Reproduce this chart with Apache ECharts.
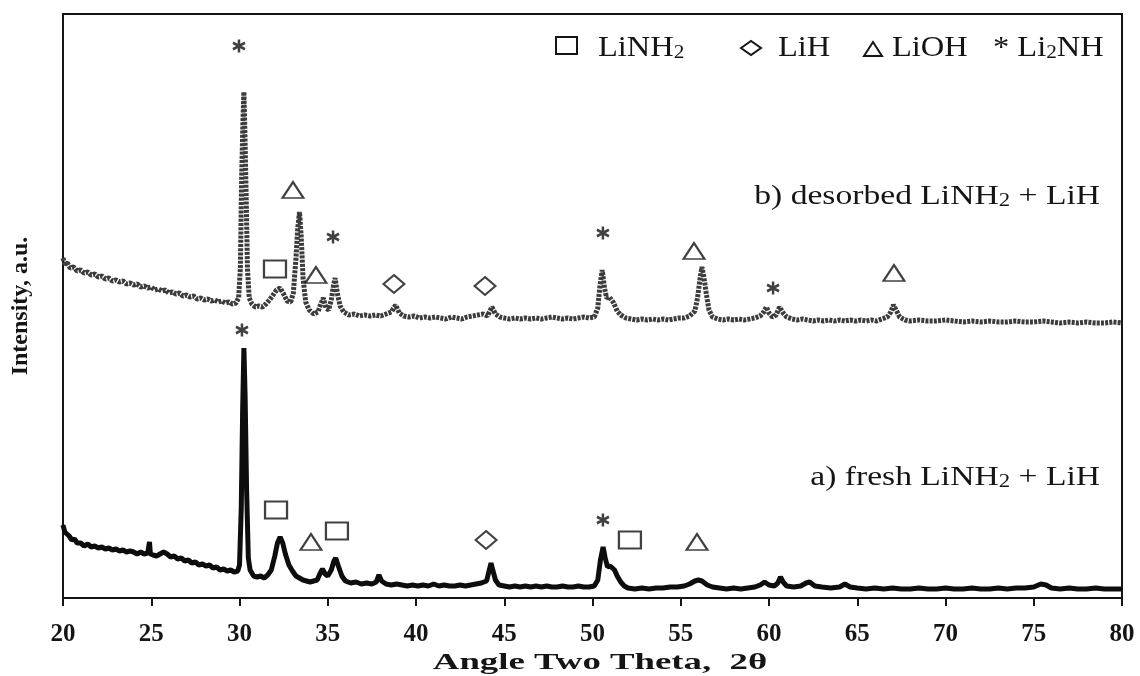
<!DOCTYPE html>
<html>
<head>
<meta charset="utf-8">
<script src="https://cdn.jsdelivr.net/npm/echarts@6/dist/echarts.min.js"></script>
<style>html,body{margin:0;padding:0;background:#fff;}#chart{width:1140px;height:676px;}</style>
</head>
<body>
<div id="chart"></div>
<script>
// ---- data (angle 2θ, intensity a.u.) ----
const xTicks = [20, 25, 30, 35, 40, 45, 50, 55, 60, 65, 70, 75, 80];

const freshPattern = [
[20.0,73],[20.1,66],[20.2,64],[20.35,62],[20.5,58],[20.65,59],[20.8,55],[21.0,55],[21.2,52],[21.4,54],[21.6,51],[21.8,52],
[22.0,50],[22.2,51],[22.4,49],[22.6,50],[22.8,48],[23.0,49],[23.2,47],[23.4,48],[23.6,46],[23.8,47],[24.0,46],[24.2,44],
[24.4,46],[24.6,44],[24.8,45],[24.9,56],[24.95,44],[25.1,43],[25.3,42],[25.5,44],[25.7,46],[25.9,44],[26.1,41],[26.3,42],
[26.5,39],[26.7,40],[26.9,37],[27.1,38],[27.3,35],[27.5,36],[27.7,33],[27.9,34],[28.1,32],[28.3,33],[28.5,30],[28.7,31],
[28.9,28],[29.1,29],[29.3,27],[29.5,28],[29.7,26],[29.9,27],[30.0,33],[30.1,90],[30.18,190],[30.25,250],[30.32,200],
[30.4,110],[30.5,40],[30.6,28],[30.8,22],[31.0,21],[31.2,22],[31.4,20],[31.6,23],[31.8,28],[32.0,42],[32.15,55],[32.3,61],
[32.45,55],[32.6,44],[32.8,33],[33.0,27],[33.2,22],[33.4,20],[33.6,18],[33.8,17],[34.0,16],[34.2,17],[34.4,18],[34.55,24],
[34.7,29],[34.85,24],[35.0,22],[35.2,28],[35.35,37],[35.45,40],[35.6,32],[35.8,22],[36.0,17],[36.3,15],[36.6,16],[36.9,14],
[37.2,15],[37.5,14],[37.75,16],[37.9,23],[38.05,17],[38.3,14],[38.6,13],[38.9,14],[39.2,13],[39.5,12],[39.8,13],[40.1,12],
[40.4,13],[40.7,12],[41.0,14],[41.3,12],[41.6,13],[41.9,12],[42.2,12],[42.5,13],[42.8,12],[43.1,13],[43.4,14],[43.7,15],
[44.0,17],[44.15,28],[44.25,35],[44.35,28],[44.5,18],[44.7,13],[45.0,12],[45.3,11],[45.6,12],[45.9,11],[46.2,12],[46.5,11],
[46.8,12],[47.1,11],[47.4,12],[47.7,11],[48.0,11],[48.3,12],[48.6,11],[48.9,11],[49.2,12],[49.5,11],[49.8,11],[50.1,12],
[50.3,18],[50.45,38],[50.6,51],[50.72,40],[50.85,31],[51.0,32],[51.1,33],[51.25,28],[51.4,22],[51.6,16],[51.8,12],[52.0,10],
[52.4,9],[52.8,10],[53.2,9],[53.6,10],[54.0,10],[54.4,11],[54.8,11],[55.2,12],[55.5,14],[55.8,17],[56.0,18],[56.2,17],
[56.5,13],[56.8,11],[57.2,10],[57.6,9],[58.0,10],[58.4,9],[58.8,10],[59.2,11],[59.5,13],[59.75,16],[60.0,13],[60.3,12],
[60.5,15],[60.65,21],[60.8,16],[61.0,12],[61.4,11],[61.8,12],[62.1,15],[62.3,16],[62.6,12],[63.0,11],[63.5,10],[64.0,11],
[64.3,14],[64.6,11],[65.0,10],[65.5,9],[66,10],[66.5,9],[67,10],[67.5,9],[68,9],[68.5,10],[69,9],[69.5,9],[70,10],[70.5,9],
[71,9],[71.5,10],[72,9],[72.5,9],[73,10],[73.5,9],[74,10],[74.5,10],[75,11],[75.4,14],[75.7,13],[76,10],[76.5,9],[77,10],
[77.5,9],[78,9],[78.5,10],[79,9],[79.5,9],[80,9]
];

const desorbedPattern = [
[20.0,340],[20.1,334],[20.25,335],[20.4,330],[20.6,331],[20.8,327],[21.0,328],[21.2,325],[21.4,326],[21.6,323],[21.8,324],
[22.0,321],[22.2,322],[22.4,319],[22.6,320],[22.8,317],[23.0,318],[23.2,316],[23.4,317],[23.6,314],[23.8,315],[24.0,313],
[24.2,314],[24.4,311],[24.6,312],[24.8,310],[25.0,311],[25.2,308],[25.4,309],[25.6,307],[25.8,308],[26.0,305],[26.2,306],
[26.4,304],[26.6,305],[26.8,302],[27.0,303],[27.2,301],[27.4,302],[27.6,299],[27.8,300],[28.0,298],[28.2,299],[28.4,297],
[28.6,298],[28.8,296],[29.0,297],[29.2,295],[29.4,296],[29.6,294],[29.8,295],[29.95,300],[30.05,330],[30.12,420],[30.2,480],
[30.25,506],[30.3,470],[30.38,400],[30.45,330],[30.55,300],[30.7,294],[30.9,291],[31.1,292],[31.3,291],[31.5,294],[31.7,298],
[31.9,303],[32.1,308],[32.3,310],[32.5,304],[32.7,297],[32.9,296],[33.05,305],[33.2,340],[33.3,370],[33.4,386],[33.5,360],
[33.6,320],[33.75,296],[33.95,288],[34.2,284],[34.45,286],[34.6,294],[34.75,300],[34.9,290],[35.05,288],[35.2,298],
[35.32,312],[35.42,320],[35.55,304],[35.7,292],[35.9,286],[36.2,283],[36.5,284],[36.8,282],[37.1,283],[37.4,282],[37.7,283],
[38.0,282],[38.3,284],[38.6,286],[38.85,293],[39.05,285],[39.3,282],[39.6,281],[39.9,282],[40.2,280],[40.5,281],[40.8,280],
[41.1,281],[41.4,280],[41.7,279],[42.0,281],[42.3,280],[42.6,279],[42.9,281],[43.2,282],[43.5,283],[43.8,284],[44.05,282],
[44.3,291],[44.5,284],[44.75,281],[45.0,280],[45.3,279],[45.6,280],[45.9,279],[46.2,280],[46.5,279],[46.8,280],[47.1,279],
[47.4,280],[47.7,281],[48.0,280],[48.3,279],[48.6,280],[48.9,279],[49.2,280],[49.5,281],[49.8,280],[50.1,281],[50.3,290],
[50.42,312],[50.55,328],[50.68,310],[50.8,300],[50.95,301],[51.05,303],[51.2,295],[51.4,287],[51.6,283],[51.9,280],[52.2,279],
[52.5,278],[52.8,279],[53.1,278],[53.4,279],[53.7,278],[54.0,279],[54.3,278],[54.6,279],[54.9,280],[55.2,280],[55.5,282],
[55.8,287],[55.95,300],[56.1,320],[56.2,331],[56.3,322],[56.45,304],[56.6,288],[56.8,281],[57.1,279],[57.4,278],[57.7,279],
[58.0,278],[58.3,279],[58.6,278],[58.9,279],[59.2,280],[59.5,282],[59.7,286],[59.85,291],[60.0,285],[60.2,281],[60.4,283],
[60.6,291],[60.8,285],[61.0,281],[61.3,279],[61.6,278],[61.9,279],[62.2,278],[62.5,277],[62.8,278],[63.1,277],[63.4,278],
[63.7,277],[64.0,278],[64.3,277],[64.6,278],[64.9,277],[65.2,278],[65.5,277],[65.8,278],[66.1,277],[66.4,279],[66.7,281],
[66.9,286],[67.05,293],[67.2,288],[67.4,281],[67.7,278],[68.0,277],[68.5,278],[69,277],[69.5,277],[70,278],[70.5,277],
[71,276],[71.5,277],[72,276],[72.5,277],[73,276],[73.5,276],[74,277],[74.5,276],[75,276],[75.5,277],[76,276],[76.5,275],
[77,276],[77.5,275],[78,276],[78.5,275],[79,275],[79.5,276],[80,275]
];

// phase markers: shape, angle, level
const markerShapes = ['star','tri','sq','tri','star','dia','dia','star','tri','star','tri',
                      'star','sq','tri','sq','dia','star','sq','tri'];
const markerAngles = [29.97,33.03,32.01,34.33,35.30,38.75,43.91,50.59,55.75,60.23,67.08,
                      30.14,32.07,34.05,35.52,43.97,50.59,52.12,55.92];
const markerLevels = [552,408,329,323,361,314,312,365,347,310,325,
                      268,88,56,67,58,78,58,56];

const sampleLabels = ['b) desorbed LiNH{s|2} + LiH', 'a) fresh LiNH{s|2} + LiH'];
const legendNames = ['LiNH{s|2}', 'LiH', 'LiOH', '* Li{s|2}NH'];
const axisTitleX = 'Angle Two Theta,  2\u03B8';
const axisTitleY = 'Intensity, a.u.';

// ---- chart ----
const ASTERISK = 'path://M0,-6L0,6M-5.2,-3L5.2,3M-5.2,3L5.2,-3';
const shapeStyle = {
  star: {symbol: ASTERISK, symbolSize: [12, 13]},
  tri:  {symbol: 'triangle', symbolSize: [21, 16]},
  sq:   {symbol: 'rect', symbolSize: [22, 17]},
  dia:  {symbol: 'diamond', symbolSize: [21, 18]}
};
const markerData = markerShapes.map((s, i) => Object.assign({
  value: [markerAngles[i], markerLevels[i]]
}, shapeStyle[s], s === 'star' ? {itemStyle: {color: 'rgba(0,0,0,0)', borderColor: '#111', borderWidth: 2.6}} : {}));

const serif = '"Liberation Serif", "Times New Roman", serif';
const INK = '#151515';
const richSub = {
  s: {fontFamily: serif, fontSize: 19, verticalAlign: 'bottom', lineHeight: 24, fill: INK}
};
function label(text, x, y, align, size, sx, bold) {
  return {type: 'text', x: x, y: y, scaleX: sx, z: 10,
    style: {text: text, rich: richSub, x: 0, y: 0, align: align, verticalAlign: 'middle',
            font: (bold ? 'bold ' : '') + size + 'px ' + serif, fill: INK}};
}
const legendX = [598, 778, 892, 993];

const chart = echarts.init(document.getElementById('chart'), null, {renderer: 'canvas'});
chart.setOption({
  backgroundColor: '#fff',
  animation: false,
  grid: {left: 63, right: 18, top: 14, bottom: 78, show: true, borderColor: INK, borderWidth: 2, backgroundColor: 'transparent'},
  xAxis: {
    type: 'value', min: xTicks[0], max: xTicks[xTicks.length - 1], interval: 5,
    axisLine: {show: true, lineStyle: {color: INK, width: 2}},
    axisTick: {show: true, inside: false, length: 8, lineStyle: {color: INK, width: 2}},
    axisLabel: {color: INK, fontFamily: serif, fontWeight: 'bold', fontSize: 25, margin: 24},
    splitLine: {show: false}
  },
  yAxis: {
    type: 'value', min: 0, max: 584,
    axisLine: {show: true, lineStyle: {color: INK, width: 2}},
    axisTick: {show: false}, axisLabel: {show: false}, splitLine: {show: false},
    name: axisTitleY, nameLocation: 'middle', nameGap: 30, nameRotate: 90,
    nameTextStyle: {color: INK, fontFamily: serif, fontWeight: 'bold', fontSize: 24}
  },
  series: [
    {
      type: 'line', name: 'desorbed', data: desorbedPattern, showSymbol: false, smooth: false,
      lineStyle: {color: '#3c3c3c', width: 5, type: [3, 1.2]}, z: 2
    },
    {
      type: 'line', name: 'fresh', data: freshPattern, showSymbol: false, smooth: false,
      lineStyle: {color: '#0d0d0d', width: 5}, z: 3
    },
    {
      type: 'scatter', name: 'phases', data: markerData,
      itemStyle: {color: '#fff', borderColor: '#111', borderWidth: 2}, z: 5
    }
  ],
  graphic: [
    {type: 'rect', z: 10, shape: {x: 556, y: 37, width: 21, height: 17}, style: {fill: 'none', stroke: INK, lineWidth: 2}},
    {type: 'polygon', z: 10, shape: {points: [[741, 48], [751, 41], [761, 48], [751, 55]]}, style: {fill: 'none', stroke: INK, lineWidth: 2}},
    {type: 'polygon', z: 10, shape: {points: [[864, 56], [873, 42], [882, 56]]}, style: {fill: 'none', stroke: INK, lineWidth: 2}},
    label(legendNames[0], legendX[0], 48, 'left', 29, 1.12, false),
    label(legendNames[1], legendX[1], 48, 'left', 29, 1.12, false),
    label(legendNames[2], legendX[2], 48, 'left', 29, 1.12, false),
    label(legendNames[3], legendX[3], 48, 'left', 29, 1.12, false),
    label(sampleLabels[0], 1100, 197, 'right', 28, 1.2, false),
    label(sampleLabels[1], 1100, 478, 'right', 28, 1.2, false),
    label(axisTitleX, 600, 663, 'center', 23, 1.6, true)
  ]
});
</script>
</body>
</html>
